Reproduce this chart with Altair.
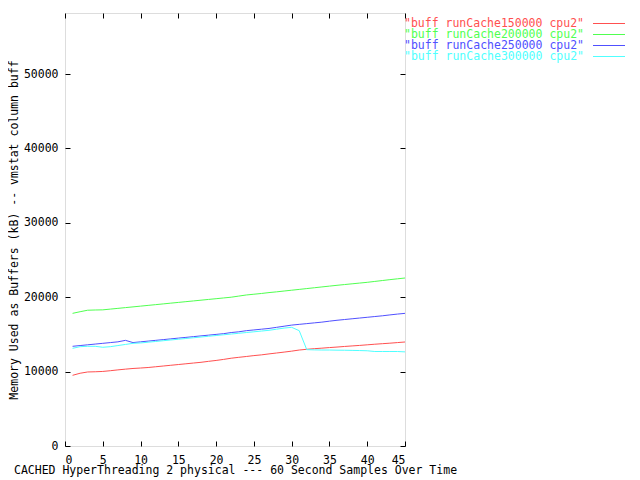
import altair as alt
import pandas as pd

series_labels = [
    '"buff runCache150000 cpu2"',
    '"buff runCache200000 cpu2"',
    '"buff runCache250000 cpu2"',
    '"buff runCache300000 cpu2"',
]
series_colors = ["#ff5050", "#50ff50", "#5050ff", "#50ffff"]

samples = list(range(1, 46))

red = [9500, 9780, 9950, 9980, 10020, 10120, 10230, 10330, 10420, 10480,
       10550, 10650, 10750, 10850, 10950, 11050, 11150, 11250, 11380, 11500,
       11640, 11800, 11920, 12030, 12150, 12250, 12380, 12500, 12620, 12750,
       12900, 13000, 13080, 13150, 13230, 13300, 13380, 13450, 13520, 13600,
       13680, 13750, 13820, 13900, 13980]
green = [17830, 18050, 18250, 18280, 18300, 18400, 18500, 18600, 18700, 18800,
         18900, 19000, 19100, 19200, 19300, 19400, 19500, 19600, 19700, 19800,
         19900, 20000, 20150, 20300, 20400, 20500, 20620, 20720, 20830, 20940,
         21050, 21160, 21270, 21380, 21490, 21600, 21700, 21800, 21900, 22000,
         22120, 22240, 22360, 22470, 22580]
blue = [13400, 13500, 13600, 13700, 13800, 13900, 14000, 14200, 13900, 14000,
        14100, 14200, 14300, 14400, 14500, 14600, 14700, 14800, 14900, 15000,
        15100, 15250, 15350, 15500, 15600, 15700, 15800, 15950, 16100, 16250,
        16350, 16450, 16550, 16650, 16780, 16900, 17000, 17100, 17200, 17300,
        17400, 17500, 17620, 17730, 17830]
cyan = [13130, 13350, 13400, 13400, 13270, 13350, 13500, 13650, 13800, 13850,
        13950, 14050, 14150, 14250, 14350, 14450, 14550, 14650, 14750, 14850,
        14950, 15050, 15150, 15250, 15350, 15450, 15550, 15700, 15850, 15950,
        15500, 12950, 12920, 12900, 12900, 12880, 12870, 12850, 12830, 12800,
        12700, 12700, 12700, 12700, 12650]

x_ticks = [0, 5, 10, 15, 20, 25, 30, 35, 40, 45]
y_ticks = [0, 10000, 20000, 30000, 40000, 50000]
x_domain = [0, 45]
y_domain = [0, 58200]

rows = []
for lab, vals in zip(series_labels, [red, green, blue, cyan]):
    for s, v in zip(samples, vals):
        rows.append({"sample": s, "buff": v, "series": lab})
df = pd.DataFrame(rows)

FONT = "DejaVu Sans Mono"
FS = 11.5

color = alt.Color("series:N", scale=alt.Scale(domain=series_labels, range=series_colors), legend=None)

lines = alt.Chart(df).mark_line(strokeWidth=1).encode(
    x=alt.X("sample:Q", scale=alt.Scale(domain=x_domain, nice=False, zero=False),
            axis=alt.Axis(values=x_ticks, format="d", orient="bottom", offset=-5, tickSize=5,
                          domain=False, grid=False, labelPadding=8, tickColor="black",
                          labelColor="black", labelFont=FONT, labelFontSize=FS,
                          labelFontWeight="normal",
                          title="CACHED HyperThreading 2 physical --- 60 Second Samples Over Time",
                          titleFont=FONT, titleFontSize=FS, titleFontWeight="normal",
                          titleColor="black", titleBaseline="alphabetic", titleY=32.5)),
    y=alt.Y("buff:Q", scale=alt.Scale(domain=y_domain, nice=False),
            axis=alt.Axis(values=y_ticks, format="d", orient="left", offset=-5, tickSize=5,
                          domain=False, grid=False, labelPadding=7, tickColor="black",
                          labelColor="black", labelFont=FONT, labelFontSize=FS,
                          labelFontWeight="normal",
                          title="Memory Used as Buffers (kB) -- vmstat column buff",
                          titleFont=FONT, titleFontSize=FS, titleFontWeight="normal",
                          titleColor="black", titleBaseline="alphabetic", titleX=-53, titleY=216.5)),
    color=color,
    detail="series:N",
)

mirror = alt.Chart(df).mark_line(opacity=0).encode(
    x=alt.X("sample:Q", scale=alt.Scale(domain=x_domain, nice=False, zero=False),
            axis=alt.Axis(values=x_ticks, orient="top", offset=-5, tickSize=5, domain=False,
                          grid=False, labels=False, title=None, tickColor="black")),
    y=alt.Y("buff:Q", scale=alt.Scale(domain=y_domain, nice=False),
            axis=alt.Axis(values=y_ticks, orient="right", offset=-5, tickSize=5, domain=False,
                          grid=False, labels=False, title=None, tickColor="black")),
    detail="series:N",
)

dummy = pd.DataFrame({"a": [0]})
legend_layers = []
for i, (lab, col) in enumerate(zip(series_labels, series_colors)):
    ly = 10.5 + 11 * i
    t = alt.Chart(dummy).mark_text(align="right", baseline="middle", font=FONT, fontSize=FS,
                                   color=col).encode(
        x=alt.value(519), y=alt.value(ly), text=alt.value(lab))
    r = alt.Chart(dummy).mark_rule(color=col, strokeWidth=1).encode(
        x=alt.value(528), x2=alt.value(562), y=alt.value(ly))
    legend_layers += [t, r]

chart = alt.layer(lines, mirror, *legend_layers).resolve_scale(
    x="independent", y="independent"
).properties(
    width=340, height=433,
    autosize=alt.AutoSizeParams(type="none"),
    padding={"left": 57, "top": 5, "right": 220, "bottom": 32},
).configure_view(stroke="black", strokeWidth=1).configure(background="white")

chart.save("out.html", embed_options={"renderer": "svg", "actions": False})
